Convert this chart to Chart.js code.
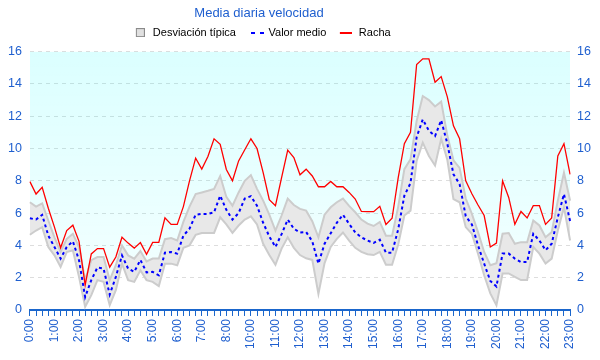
<!DOCTYPE html>
<html>
<head>
<meta charset="utf-8">
<script src="https://cdn.jsdelivr.net/npm/chart.js@4.4.0/dist/chart.umd.min.js"></script>
<style>
  html, body { margin: 0; padding: 0; background: #fff; }
  #wrap { width: 600px; height: 360px; }
</style>
</head>
<body>
<div id="wrap"><canvas id="grafico"></canvas></div>
<script>
// etiquetas horarias (falta la hora 9:00 en el original)
const horas = ['0:00', '1:00', '2:00', '3:00', '4:00', '5:00', '6:00', '7:00', '8:00', '10:00', '11:00',
  '12:00', '13:00', '14:00', '15:00', '16:00', '17:00', '18:00', '19:00', '20:00', '21:00', '22:00', '23:00'];

const racha = [7.95, 7.18, 7.6, 6.3, 5.13, 3.85, 4.92, 5.25, 4.25, 1.54,
  3.47, 3.8, 3.8, 2.65, 3.28, 4.5, 4.14, 3.83, 4.17, 3.45,
  4.18, 4.18, 5.7, 5.3, 5.3, 6.4, 8.0, 9.4, 8.72, 9.5,
  10.6, 10.26, 8.7, 8.0, 9.23, 9.92, 10.6, 10.0, 8.5, 6.83,
  6.46, 8.2, 9.9, 9.44, 8.37, 8.72, 8.3, 7.63, 7.63, 7.96,
  7.63, 7.63, 7.28, 6.87, 6.1, 6.09, 6.09, 6.42, 5.29, 5.68,
  8.2, 10.3, 11.0, 15.2, 15.55, 15.55, 14.1, 14.45, 13.2, 11.4,
  10.6, 8.0, 7.2, 6.5, 5.85, 3.9, 4.14, 8.0, 6.97, 5.3,
  6.1, 5.7, 6.46, 6.46, 5.3, 5.7, 9.54, 10.3, 8.4];

const media = [5.68, 5.6, 5.89, 4.6, 3.9, 3.18, 3.9, 4.25, 3.08, 0.8,
  1.85, 2.63, 2.56, 0.95, 2.05, 3.38, 2.56, 2.36, 3.1, 2.33,
  2.36, 2.15, 3.55, 3.59, 3.49, 4.6, 5.03, 5.9, 5.95, 5.95,
  6.05, 7.08, 6.2, 5.6, 6.0, 6.9, 7.05, 6.45, 5.4, 4.55,
  3.9, 4.7, 5.6, 5.03, 4.8, 4.83, 4.25, 2.87, 4.1, 4.75,
  5.4, 5.9, 5.33, 4.8, 4.5, 4.3, 4.15, 4.35, 3.55, 3.55,
  5.0, 7.08, 7.85, 10.7, 11.8, 11.1, 10.77, 11.75, 10.3, 8.4,
  7.8, 5.8, 5.3, 4.0, 2.87, 1.8, 1.45, 3.49, 3.49, 3.18,
  2.97, 2.97, 4.72, 4.3, 3.7, 4.1, 5.74, 7.18, 5.5];

const desvSup = [6.67, 6.4, 6.6, 5.54, 4.5, 3.6, 4.4, 4.72, 3.9, 1.85,
  3.08, 3.28, 3.28, 1.85, 2.77, 4.0, 3.38, 3.18, 3.65, 3.0,
  3.18, 3.18, 4.38, 4.45, 4.3, 5.45, 6.4, 7.18, 7.28, 7.38,
  7.5, 8.3, 7.0, 6.46, 7.28, 8.0, 8.35, 7.5, 6.77, 5.9,
  4.92, 5.85, 6.9, 6.5, 6.26, 6.15, 5.5, 4.5, 5.9, 6.36,
  6.67, 6.9, 6.45, 6.05, 5.6, 5.35, 5.2, 5.45, 4.6, 4.6,
  6.4, 8.72, 9.33, 11.7, 13.25, 13.0, 12.6, 12.9, 10.8, 9.27,
  8.8, 6.9, 5.95, 4.82, 3.59, 2.77, 2.9, 4.72, 4.76, 4.1,
  4.2, 4.2, 5.54, 5.23, 4.5, 4.82, 6.77, 8.5, 6.77];

const desvInf = [4.66, 4.92, 5.13, 3.9, 3.38, 2.67, 3.59, 3.7, 2.05, 0.2,
  0.92, 1.85, 1.74, 0.3, 1.23, 2.87, 1.85, 1.74, 2.46, 1.85,
  1.74, 1.48, 2.87, 2.87, 2.77, 3.85, 4.0, 4.65, 4.77, 4.77,
  4.77, 5.74, 5.3, 4.77, 5.23, 5.6, 5.8, 5.3, 4.1, 3.4,
  2.8, 3.8, 4.5, 3.85, 3.4, 3.2, 3.1, 1.0, 2.9, 3.9,
  4.4, 4.8, 4.3, 3.85, 3.6, 3.45, 3.4, 3.6, 2.8, 2.8,
  4.05, 5.85, 6.15, 9.23, 10.36, 9.54, 8.95, 10.6, 9.3, 6.87,
  6.67, 5.13, 4.72, 3.49, 2.15, 1.03, 0.3, 2.26, 2.26, 2.05,
  1.85, 1.85, 3.9, 3.49, 2.87, 3.18, 4.92, 6.36, 4.3];

// una etiqueta cada 4 muestras (15 min)
const etiquetas = racha.map((v, i) => (i % 4 === 0 ? horas[i / 4] : ''));

const azul = '#1f5fcf';
const fuente = 'Liberation Sans, Arial, sans-serif';

// iconos de la leyenda (con margen transparente a la izquierda)
function icono(w, h, pintar) {
  const c = document.createElement('canvas');
  c.width = w;
  c.height = h;
  pintar(c.getContext('2d'));
  return c;
}
const iconoBanda = icono(15, 9, (g) => {
  g.fillStyle = '#e0e0e0';
  g.fillRect(6, 0, 9, 9);
  g.strokeStyle = '#8a8a8a';
  g.lineWidth = 1;
  g.strokeRect(6.5, 0.5, 8, 8);
});
const iconoMedia = icono(26, 2, (g) => {
  g.fillStyle = '#0000ff';
  g.fillRect(11, 0, 4, 2);
  g.fillRect(20, 0, 4, 2);
});
const iconoRacha = icono(17, 2, (g) => {
  g.fillStyle = '#ff0000';
  g.fillRect(5, 0, 12, 2);
});

const fondoCian = (c) => {
  const ca = c.chart.chartArea;
  if (!ca) return 'rgba(0,255,255,0.1)';
  const gr = c.chart.ctx.createLinearGradient(0, ca.top, 0, ca.bottom);
  gr.addColorStop(0, 'rgba(0,255,255,0.14)');
  gr.addColorStop(1, 'rgba(0,255,255,0.04)');
  return gr;
};

// el titulo y la leyenda del original no estan centrados en el lienzo
const desplazarCabecera = {
  id: 'desplazarCabecera',
  afterLayout(chart) {
    [[chart.titleBlock, -2.5], [chart.legend, -3.5]].forEach(([caja, dy]) => {
      if (!caja || caja._movida) return;
      const dibujar = caja.draw.bind(caja);
      caja.draw = function (area) {
        this.ctx.save();
        this.ctx.translate(-40, dy);
        dibujar(area);
        this.ctx.restore();
      };
      caja._movida = true;
    });
  }
};

new Chart(document.getElementById('grafico'), {
  type: 'line',
  data: {
    labels: etiquetas,
    datasets: [
      { label: 'Valor medio', data: media, borderColor: '#0000ff', borderWidth: 2, borderDash: [3, 3],
        pointRadius: 0, fill: false, order: 0 },
      { label: 'Racha', data: racha, borderColor: '#ff0000', borderWidth: 1.3,
        pointRadius: 0, fill: false, order: 1 },
      { label: 'Desviación típica', data: desvSup, borderColor: '#cccccc', borderWidth: 2,
        backgroundColor: '#e8e8e8', fill: '+1', pointRadius: 0, order: 2 },
      { label: 'inf', data: desvInf, borderColor: '#cccccc', borderWidth: 2,
        pointRadius: 0, fill: false, order: 3 },
      { label: 'fondo', data: desvSup, borderColor: 'rgba(0,0,0,0)', borderWidth: 0,
        backgroundColor: fondoCian, fill: 'end', pointRadius: 0, order: 4 }
    ]
  },
  plugins: [desplazarCabecera],
  options: {
    responsive: true,
    maintainAspectRatio: false,
    animation: false,
    layout: { padding: { left: 0, right: 2, top: 3, bottom: 8 } },
    plugins: {
      filler: { drawTime: 'beforeDatasetsDraw' },
      tooltip: { enabled: false },
      title: {
        display: true,
        text: 'Media diaria velocidad',
        color: azul,
        font: { family: fuente, size: 13, weight: 'normal' },
        padding: { top: 5, bottom: 0 }
      },
      legend: {
        display: true,
        labels: {
          usePointStyle: true,
          pointStyleWidth: 20,
          boxHeight: 9,
          padding: 7,
          color: '#000',
          font: { family: fuente, size: 11 },
          generateLabels: () => [
            { text: 'Desviación típica', pointStyle: iconoBanda, fontColor: '#000', hidden: false, lineWidth: 0, datasetIndex: 2 },
            { text: 'Valor medio', pointStyle: iconoMedia, fontColor: '#000', hidden: false, lineWidth: 0, datasetIndex: 0 },
            { text: 'Racha', pointStyle: iconoRacha, fontColor: '#000', hidden: false, lineWidth: 0, datasetIndex: 1 }
          ]
        }
      }
    },
    scales: {
      x: {
        grid: { display: true, drawOnChartArea: false, drawTicks: true, tickLength: 6, color: '#1a66cc' },
        border: { display: true, color: '#1a66cc', width: 2 },
        ticks: { autoSkip: false, maxRotation: 90, minRotation: 90, padding: 3, color: azul,
          font: { family: fuente, size: 12 } }
      },
      y: {
        position: 'left',
        min: 0,
        max: 16,
        ticks: { stepSize: 2, padding: 8, color: azul, font: { family: fuente, size: 12.5 } },
        grid: { color: '#dddddd', drawTicks: false },
        border: { display: false, dash: [4, 4] }
      },
      y2: {
        position: 'right',
        min: 0,
        max: 16,
        ticks: { stepSize: 2, padding: 7, color: azul, font: { family: fuente, size: 12.5 } },
        grid: { display: false, drawTicks: false },
        border: { display: false }
      }
    }
  }
});
</script>
</body>
</html>
